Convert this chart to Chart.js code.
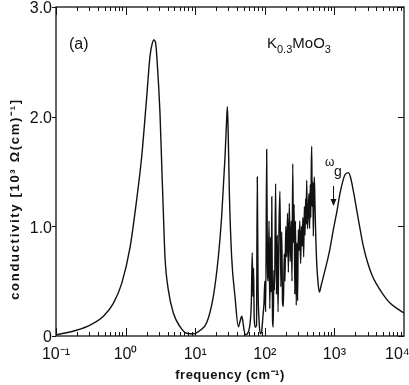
<!DOCTYPE html>
<html>
<head>
<meta charset="utf-8">
<script src="https://cdn.jsdelivr.net/npm/chart.js@4.4.0/dist/chart.umd.min.js"></script>
<style>
    html, body { margin: 0; padding: 0; background: #fff; }
    #wrap { width: 409px; height: 385px; }
</style>
</head>
<body>
<div id="wrap"><canvas id="condChart" width="409" height="385"></canvas></div>
<script>
// Optical conductivity of K0.3MoO3
// frequency in cm^-1, conductivity in 10^3 ohm^-1 cm^-1
const freq = [
    0.1, 0.19, 0.31, 0.48, 0.67, 0.88, 1.16, 1.44, 1.70, 2.01,
    2.24, 2.42, 2.55, 2.70, 2.85, 3.12, 3.30, 3.49, 3.68, 4.11,
    4.85, 6.05, 7.55, 9.4, 11.7, 14.6, 18.2, 21.5, 24.0, 26.8,
    28.2, 29.0, 29.8, 30.9, 33.4, 37.3, 41.7, 44.0, 46.6, 48.5,
    50.2, 53.0, 56.0, 59.0, 61.5, 64.0, 66.0, 67.5, 69.0, 70.5,
    73.0, 76.0, 78.0, 80.0, 82.6, 86.0, 90.0, 94.0, 97.4, 100,
    103, 106.4, 109, 112, 115, 118, 121, 124, 126, 129,
    132, 135, 138, 143, 147, 151, 155, 160, 165, 170,
    175, 180, 185, 190, 195, 200, 206, 212, 218, 225,
    232, 240, 246, 252, 258, 264, 270, 276, 283, 290,
    296, 303, 310, 318, 327, 336, 345, 352, 362, 370,
    378, 386, 393, 400, 410, 420, 432, 440, 450, 458,
    466, 472, 480, 490, 498, 506, 515, 526, 535, 545,
    557, 580, 607, 650, 700, 774, 866, 966, 1090, 1203,
    1419, 1584, 1700, 1900, 2090, 2333, 2603, 3000, 3500, 4054,
    5000, 6295, 8000, 10000
];
const cond = [
    0.01, 0.05, 0.10, 0.18, 0.30, 0.48, 0.81, 1.24, 1.63, 2.18,
    2.55, 2.67, 2.70, 2.67, 2.49, 2.03, 1.57, 1.12, 0.72, 0.42,
    0.21, 0.085, 0.025, 0.02, 0.05, 0.12, 0.36, 0.72, 1.09, 1.63,
    1.95, 2.09, 1.85, 1.33, 0.72, 0.36, 0.085, 0.13, 0.18, 0.13,
    0.06, 0.01, 0.02, 0.05, 0.12, 0.30, 0.76, 0.36, 0.62, 0.15,
    0.08, 0.10, 1.45, 0.45, 0.15, 0.02, 0.04, 0.18, 0.30, 0.50,
    0.22, 1.70, 0.66, 0.50, 1.05, 0.25, 0.90, 0.40, 1.27, 0.15,
    0.08, 0.60, 0.42, 1.39, 0.38, 0.92, 0.22, 1.00, 1.32, 0.45,
    0.95, 0.30, 0.27, 0.75, 0.50, 1.00, 0.72, 1.12, 0.58, 1.21,
    0.68, 1.05, 0.50, 1.57, 0.85, 1.20, 0.38, 1.05, 0.28, 0.85,
    0.32, 0.97, 0.78, 1.05, 0.66, 1.00, 0.82, 1.08, 0.72, 1.18,
    0.92, 1.25, 1.02, 1.42, 0.98, 1.12, 1.30, 0.98, 1.38, 1.08,
    1.55, 1.73, 1.18, 1.40, 0.91, 1.30, 1.45, 1.20, 1.00, 0.82,
    0.66, 0.50, 0.40, 0.47, 0.55, 0.66, 0.80, 0.97, 1.14, 1.30,
    1.47, 1.49, 1.45, 1.30, 1.15, 0.98, 0.82, 0.67, 0.55, 0.47,
    0.38, 0.30, 0.25, 0.21
];

const xTickValues = [0.1, 1, 10, 100, 1000, 10000];
// last label sits a little left of its tick in the original
const xTickLabels = ['10⁻¹', '10⁰', '10¹', '10²', '10³', '10⁴\u00a0\u00a0\u00a0'];
const yTickValues = [0, 1, 2, 3];
const yTickLabels = ['0', '1.0', '2.0', '3.0'];

const FONT = '"Liberation Sans", Arial, sans-serif';

// frame, inward log ticks, titles and annotations
const frameAndText = {
    id: 'frameAndText',
    afterDatasetsDraw(chart) {
        const { ctx, chartArea: a, scales: { x, y } } = chart;
        ctx.save();
        ctx.strokeStyle = '#111';
        ctx.lineWidth = 1.3;
        ctx.strokeRect(a.left, a.top, a.right - a.left, a.bottom - a.top);

        ctx.lineWidth = 1;
        ctx.beginPath();
        for (let e = -1; e < 4; e++) {
            for (let m = 1; m < 10; m++) {
                const px = Math.round(x.getPixelForValue(m * Math.pow(10, e))) + 0.5;
                const len = m === 1 ? 8 : 4;
                ctx.moveTo(px, a.bottom); ctx.lineTo(px, a.bottom - len);
                ctx.moveTo(px, a.top); ctx.lineTo(px, a.top + len);
            }
        }
        yTickValues.forEach(v => {
            const py = Math.round(y.getPixelForValue(v)) + 0.5;
            ctx.moveTo(a.left - 4, py); ctx.lineTo(a.left, py);
            ctx.moveTo(a.right, py); ctx.lineTo(a.right - 6, py);
        });
        ctx.stroke();

        ctx.fillStyle = '#111';
        // x title
        ctx.font = 'bold 13px ' + FONT;
        ctx.textAlign = 'center';
        ctx.textBaseline = 'middle';
        ctx.letterSpacing = '0.5px';
        ctx.fillText('frequency (cm⁻¹)', (a.left + a.right) / 2, 375);

        // y title
        ctx.save();
        ctx.translate(15, 199);
        ctx.rotate(-Math.PI / 2);
        ctx.letterSpacing = '1.7px';
        ctx.fillText('conductivity [10³ Ω(cm)⁻¹]', 0, 0);
        ctx.restore();
        ctx.letterSpacing = '0px';

        // panel label
        ctx.font = '16px ' + FONT;
        ctx.textAlign = 'left';
        ctx.textBaseline = 'alphabetic';
        ctx.fillText('(a)', 69, 49);

        // compound name with subscripts
        let cx = 267;
        const parts = [['K', 0], ['0.3', 1], ['MoO', 0], ['3', 1]];
        parts.forEach(([t, sub]) => {
            ctx.font = (sub ? '11px ' : '15px ') + FONT;
            ctx.fillText(t, cx, sub ? 53 : 48);
            cx += ctx.measureText(t).width;
        });

        // omega_g with arrow
        ctx.font = '12px ' + FONT;
        ctx.fillText('ω', 325, 166);
        ctx.font = '14px ' + FONT;
        ctx.fillText('g', 334, 176);
        ctx.beginPath();
        ctx.moveTo(333.5, 186); ctx.lineTo(333.5, 200);
        ctx.stroke();
        ctx.beginPath();
        ctx.moveTo(330.5, 199); ctx.lineTo(336.5, 199); ctx.lineTo(333.5, 206);
        ctx.closePath();
        ctx.fill();
        ctx.restore();
    }
};

const ctx = document.getElementById('condChart').getContext('2d');
const condChart = new Chart(ctx, {
    type: 'scatter',
    data: {
        datasets: [{
            label: 'K0.3MoO3',
            data: freq.map((f, i) => ({ x: f, y: cond[i] })),
            showLine: true,
            borderColor: '#111',
            borderWidth: 1.4,
            pointRadius: 0,
            cubicInterpolationMode: 'monotone'
        }]
    },
    options: {
        responsive: false,
        animation: false,
        devicePixelRatio: 1,
        layout: { padding: { top: 7, right: 5, left: 0, bottom: 0 } },
        plugins: {
            legend: { display: false },
            tooltip: { enabled: false }
        },
        scales: {
            x: {
                type: 'logarithmic',
                min: 0.1,
                max: 10000,
                grid: { display: false, drawTicks: false },
                border: { display: false },
                afterBuildTicks: scale => {
                    scale.ticks = xTickValues.map(v => ({ value: v }));
                },
                afterFit: scale => {
                    scale.height = 49;
                    scale.paddingLeft = 0;
                    scale.paddingRight = 0;
                },
                ticks: {
                    autoSkip: false,
                    maxRotation: 0,
                    padding: 9,
                    color: '#111',
                    font: { family: FONT, size: 16 },
                    callback: v => xTickLabels[xTickValues.indexOf(v)]
                }
            },
            y: {
                type: 'linear',
                min: 0,
                max: 3,
                grid: { display: false, drawTicks: false },
                border: { display: false },
                afterFit: scale => {
                    scale.width = 56;
                    scale.paddingTop = 0;
                    scale.paddingBottom = 0;
                },
                ticks: {
                    stepSize: 1,
                    padding: 4,
                    labelOffset: 2,
                    color: '#111',
                    font: { family: FONT, size: 16 },
                    callback: v => yTickLabels[yTickValues.indexOf(v)]
                }
            }
        }
    },
    plugins: [frameAndText]
});
</script>
</body>
</html>
